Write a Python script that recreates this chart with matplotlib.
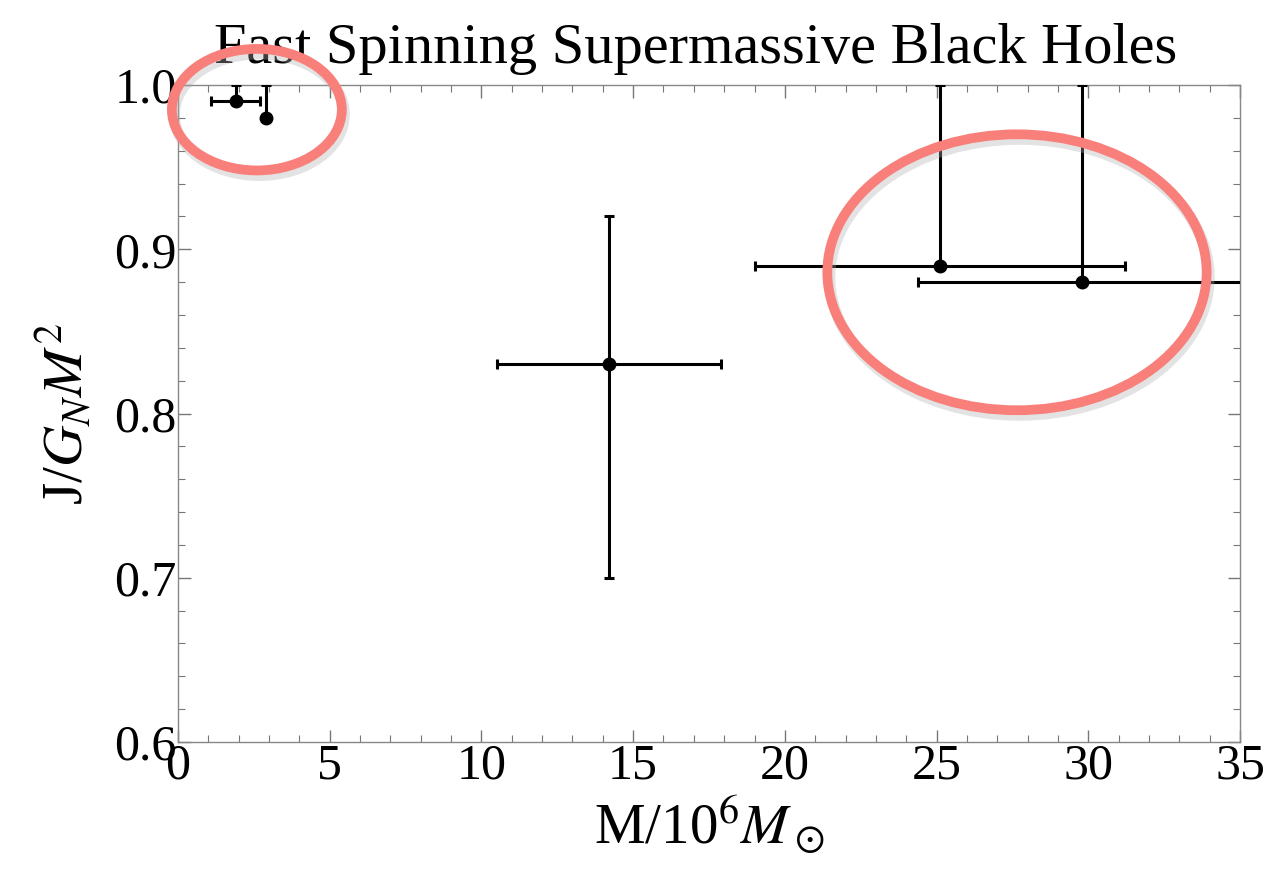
import matplotlib
matplotlib.use("Agg")
import matplotlib.pyplot as plt
from matplotlib.patches import Ellipse
from matplotlib.ticker import MultipleLocator

# black hole mass (10^6 Msun) and spin J/(G M^2), with asymmetric errors
mass = [1.9, 2.9, 14.2, 25.1, 29.8]
mass_lo = [0.8, 0.0, 3.7, 6.1, 5.4]
mass_hi = [0.8, 0.0, 3.7, 6.1, 5.4]
spin = [0.99, 0.98, 0.83, 0.89, 0.88]
spin_lo = [0.0, 0.0, 0.13, 0.0, 0.0]
spin_hi = [0.01, 0.02, 0.09, 0.11, 0.12]

# hand-drawn highlight rings: centre x, centre y, width, height
ring_x = [2.6, 27.65]
ring_y = [0.985, 0.886]
ring_w = [5.6, 12.5]
ring_h = [0.074, 0.168]

plt.rcParams['font.family'] = ['Liberation Serif', 'DejaVu Serif']
plt.rcParams['mathtext.fontset'] = 'stix'

fig = plt.figure(figsize=(12.83, 8.84), dpi=100)
ax = fig.add_axes([0.1387, 0.1606, 0.8278, 0.7432])

ax.errorbar(mass, spin, xerr=[mass_lo, mass_hi], yerr=[spin_lo, spin_hi],
            fmt='o', color='black', ms=9, elinewidth=2.2, capsize=3.5,
            capthick=2.2, zorder=3)

for cx, cy, w, h in zip(ring_x, ring_y, ring_w, ring_h):
    ax.add_patch(Ellipse((cx + 0.08, cy - 0.003), w, h, fill=False,
                         edgecolor='#b0b0b0', lw=8, alpha=0.35,
                         clip_on=False, zorder=4))
    ax.add_patch(Ellipse((cx, cy), w, h, fill=False, edgecolor='#f87f7a',
                         lw=7, clip_on=False, zorder=5))

ax.set_xlim(0, 35)
ax.set_ylim(0.6, 1.0)
ax.xaxis.set_major_locator(MultipleLocator(5))
ax.xaxis.set_minor_locator(MultipleLocator(1))
ax.yaxis.set_major_locator(MultipleLocator(0.1))
ax.yaxis.set_minor_locator(MultipleLocator(0.02))
ax.yaxis.set_major_formatter(plt.FormatStrFormatter('%.1f'))

ax.tick_params(which='both', direction='in', top=True, right=True,
               color='#777777', labelsize=36, pad=1)
ax.tick_params(which='major', length=9, width=1)
ax.tick_params(which='minor', length=5, width=0.8)
for s in ax.spines.values():
    s.set_color('#888888')
    s.set_linewidth(1)

ax.set_xlabel(r'M/10$^6$$M_\odot$', fontsize=41, labelpad=2)
ax.set_ylabel(r'J/$G_N M^2$', fontsize=41, labelpad=14)
ax.set_title('Fast Spinning Supermassive Black Holes', fontsize=42, pad=16,
             x=0.487)

fig.savefig('out.png', dpi=100)
